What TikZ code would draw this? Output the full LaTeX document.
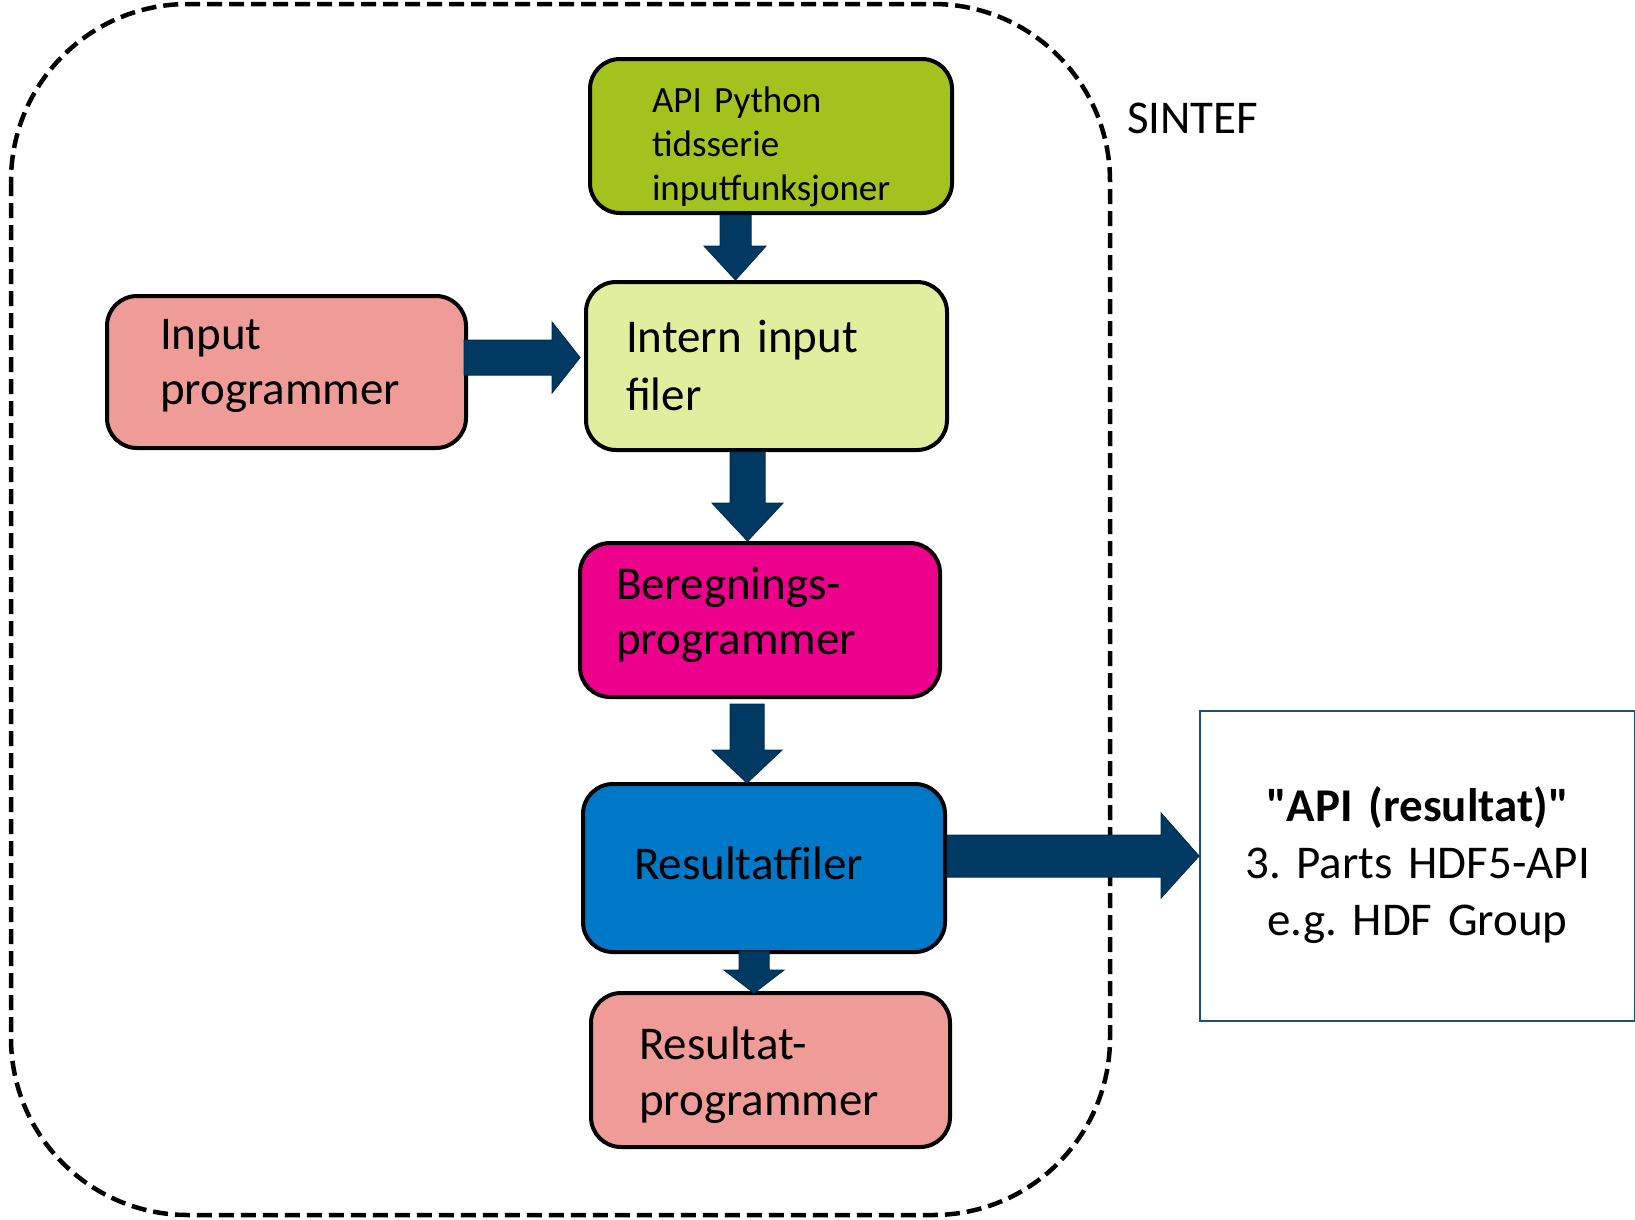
\documentclass[tikz,border=0pt]{standalone}
\usepackage{fontspec}
\setmainfont{Carlito}
\usetikzlibrary{calc}
\definecolor{pinkc}{RGB}{239,156,153}
\definecolor{lgreenc}{RGB}{224,238,158}
\definecolor{ogreenc}{RGB}{164,194,30}
\definecolor{magc}{RGB}{236,0,140}
\definecolor{bluec}{RGB}{0,120,200}
\definecolor{arrowc}{RGB}{0,58,99}
\definecolor{arrowedge}{RGB}{0,45,80}
\definecolor{apiedge}{RGB}{31,78,121}
\newcommand\straightquote{\XeTeXglyph\XeTeXcharglyph"22\relax}
\frenchspacing
\begin{document}
\begin{tikzpicture}[x=1pt,y=-1pt,
  box/.style={draw=black, line width=4pt, rounded corners=30pt, inner ysep=0pt,
    align=left, anchor=north west},
  bigtext/.style={font=\fontsize{47}{#1}\selectfont\frenchspacing},
  blockarr/.style={fill=arrowc, draw=arrowedge, line width=1pt, line join=miter},
  frame/.style={draw=black, line width=4.5pt, dash pattern=on 15pt off 7pt, rounded corners=177pt}
]
\useasboundingbox (0,0) rectangle (1635,1219);

% SINTEF boundary
\draw[frame] (11,4) rectangle (1110,1215);
\node[anchor=base west, inner sep=0pt, font=\fontsize{47}{56}\selectfont] (sintef) at (1127,133) {SINTEF};

% boxes
\node[box, fill=ogreenc, inner xsep=62pt, text width=238pt, text height=53pt, text depth=101pt,
  font=\fontsize{37}{44}\selectfont] (api) at (588,57) {API Python\\tidsserie\\\mbox{inputfunksjoner}};
\node[box, fill=pinkc, inner xsep=53pt, text width=253pt, text height=53pt, text depth=99pt,
  bigtext=55] (input) at (105,294) {Input\\programmer};
\node[box, fill=lgreenc, inner xsep=40pt, text width=281pt, text height=70pt, text depth=98pt,
  bigtext=58] (intern) at (584,280) {Intern input\\filer};
\node[box, fill=magc, inner xsep=36pt, text width=288pt, text height=56pt, text depth=98pt,
  bigtext=55] (bereg) at (578,541) {Beregnings-\\programmer};
\node[box, fill=bluec, inner xsep=51pt, text width=260pt, text height=95pt, text depth=73pt,
  bigtext=56] (resf) at (581,782) {Resultatfiler};
\node[box, fill=pinkc, inner xsep=48pt, text width=263pt, text height=66pt, text depth=88pt,
  bigtext=56] (resp) at (589,991) {Resultat-\\programmer};
\node[draw=apiedge, line width=2pt, inner xsep=0pt, inner ysep=0pt, text width=435pt, align=center,
  text height=110pt, text depth=200pt, anchor=north west, bigtext=57] (apires) at (1199,710)
  {\textbf{\straightquote API (resultat)\straightquote}\\3. Parts HDF5-API\\e.g. HDF Group};

% block arrows
\filldraw[blockarr] (api.south -| 720,0) -- (api.south -| 751,0) -- (751,246) -- (766,246)
  -- (intern.north -| 735.5,0) -- (704,246) -- (720,246) -- cycle;
\filldraw[blockarr] (intern.south -| 730,0) -- (intern.south -| 765,0) -- (765,503) -- (783,503)
  -- (bereg.north -| 747.5,0) -- (712,503) -- (730,503) -- cycle;
\filldraw[blockarr] ($(bereg.south -| 730,0)+(0,5)$) -- ($(bereg.south -| 764,0)+(0,5)$) -- (764,750) -- (782,750)
  -- ($(resf.north -| 747,0)+(0,1)$) -- (712,750) -- (730,750) -- cycle;
\filldraw[blockarr] ($(resf.south -| 739,0)+(0,-3)$) -- ($(resf.south -| 769,0)+(0,-3)$) -- (769,970) -- (784,970)
  -- ($(resp.north -| 754,0)+(0,2)$) -- (724,970) -- (739,970) -- cycle;
\filldraw[blockarr] ($(input.east |- 0,340)+(-4,0)$) -- (552,340) -- (552,322)
  -- ($(intern.west |- 0,357.5)+(-4,0)$) -- (552,393) -- (552,375) -- ($(input.east |- 0,375)+(-4,0)$) -- cycle;
\filldraw[blockarr] (resf.east |- 0,835) -- (1161,835) -- (1161,813)
  -- (apires.west |- 0,856) -- (1161,898) -- (1161,877) -- (resf.east |- 0,877) -- cycle;
\end{tikzpicture}
\end{document}
